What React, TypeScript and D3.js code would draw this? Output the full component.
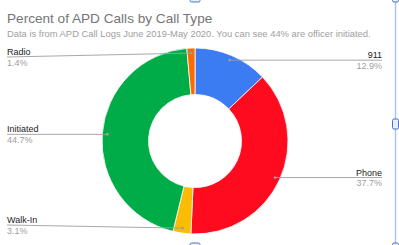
import React from "react";
import * as d3 from "d3";

const categories = ["911", "Phone", "Walk-In", "Initiated", "Radio"];
const values = [12.9, 37.7, 3.1, 44.7, 1.4];
const valueLabels = ["12.9%", "37.7%", "3.1%", "44.7%", "1.4%"];
const colors = ["#3b7cf2", "#ff0b1f", "#fcbc05", "#00ac47", "#ff6a00"];
const title = "Percent of APD Calls by Call Type";
const subtitle = "Data is from APD Call Logs June 2019-May 2020. You can see 44% are officer initiated.";

export default function App() {
  const W = 399, H = 245;
  const cx = 195, cy = 141, R = 93, r = 46.5;
  const pie = d3.pie<number>().sort(null).value((d) => d);
  const arcs = pie(values);
  const arcGen = d3.arc<d3.PieArcDatum<number>>().innerRadius(r).outerRadius(R);
  const font = "Liberation Sans, Arial, sans-serif";
  const leftX = 7, rightX = 382;
  return (
    <svg width={W} height={H} style={{ position: "absolute", left: 0, top: 0, fontFamily: font }}>
      <rect x={0} y={0} width={W} height={H} fill="#fff" />
      <text x={7} y={23} fontSize={13.6} fill="#757575">{title}</text>
      <text x={7} y={37} fontSize={9.4} fill="#9e9e9e">{subtitle}</text>
      <g transform={`translate(${cx},${cy})`}>
        {arcs.map((a, i) => (
          <path key={i} d={arcGen(a) || ""} fill={colors[i]} stroke="#fff" strokeWidth={0.8} />
        ))}
      </g>
      {arcs.map((a, i) => {
        const mid = (a.startAngle + a.endAngle) / 2;
        const dr = R - 5;
        const dx = cx + dr * Math.sin(mid);
        const dy = cy - dr * Math.cos(mid);
        const right = dx > cx;
        const uy = Math.max(57, Math.min(225, dy));
        const lx = right ? rightX : leftX;
        return (
          <g key={i}>
            <path d={`M${lx},${uy} L${dx},${dy}`} stroke="#9e9e9e" strokeWidth={0.9} fill="none" />
            <circle cx={dx} cy={dy} r={1.4} fill="#9e9e9e" />
            <text x={lx} y={uy - 2} fontSize={9} fill="#222" textAnchor={right ? "end" : "start"}>{categories[i]}</text>
            <text x={lx} y={uy + 8.5} fontSize={9} fill="#9e9e9e" textAnchor={right ? "end" : "start"}>{valueLabels[i]}</text>
          </g>
        );
      })}
      {/* selection frame */}
      <line x1={395.5} y1={0} x2={395.5} y2={H} stroke="#a8c4f0" strokeWidth={1.5} />
      <rect x={190} y={-4} width={10} height={6} rx={1.5} fill="#e8eefc" stroke="#4a74c9" strokeWidth={1} />
      <rect x={392.5} y={-4} width={6} height={6} rx={1.5} fill="#e8eefc" stroke="#4a74c9" strokeWidth={1} />
      <rect x={392.5} y={119} width={6} height={10} rx={1.5} fill="#e8eefc" stroke="#4a74c9" strokeWidth={1} />
      <rect x={190} y={243} width={10} height={6} rx={1.5} fill="#e8eefc" stroke="#4a74c9" strokeWidth={1} />
      <rect x={392.5} y={243} width={6} height={6} rx={1.5} fill="#e8eefc" stroke="#4a74c9" strokeWidth={1} />
    </svg>
  );
}
